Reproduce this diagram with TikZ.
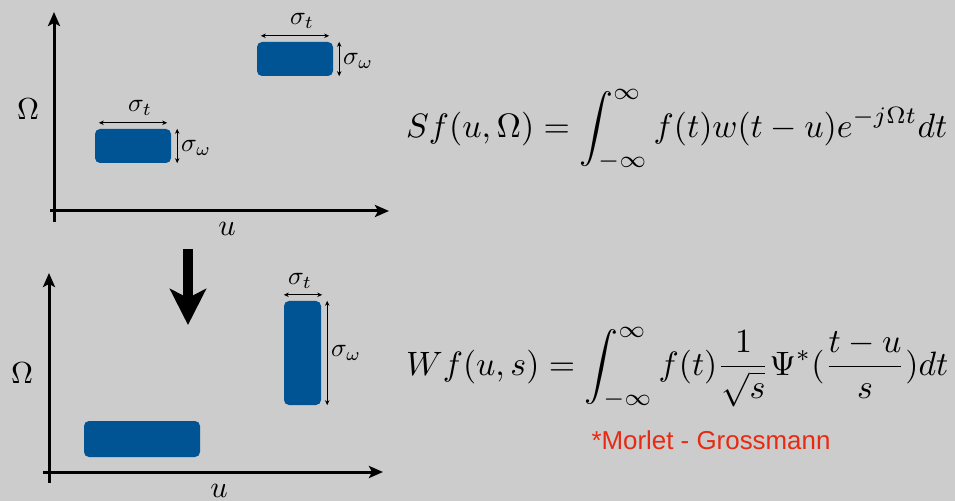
\documentclass[tikz,border=0pt]{standalone}
\usepackage{graphicx}
\usepackage{fontspec}
\newfontfamily\sansf{Liberation Sans}
\usetikzlibrary{arrows.meta}
\definecolor{bgc}{RGB}{204,204,204}
\definecolor{boxc}{RGB}{0,84,148}
\definecolor{redt}{RGB}{232,42,18}
\newcommand{\labm}[1]{\scalebox{3.05}{$#1$}}
\newcommand{\sigm}[1]{\scalebox{2.6}{$#1$}}
\begin{document}
\begin{tikzpicture}[x=1bp,y=-1bp,
  box/.style={fill=boxc, rounded corners=5bp, inner sep=0, draw=none},
  axis/.style={line width=3bp, -{Stealth[length=14bp,width=12bp,inset=3bp]}},
  dim/.style={line width=0.8bp, {Stealth[length=5bp,width=4.5bp]}-{Stealth[length=5bp,width=4.5bp]}},
  lab/.style={inner sep=0},
  sig/.style={inner sep=0},
  bigarrow/.style={line width=10bp, -{Stealth[length=36bp,width=36bp,inset=9bp]}}]
\fill[bgc] (0,0) rectangle (955,501);
\useasboundingbox (0,0) rectangle (955,501);

% ---------- top panel ----------
\coordinate (ty0) at (54,222);
\coordinate (ty1) at (54,12);
\coordinate (tx0) at (50,211);
\coordinate (tx1) at (389,211);
\draw[axis] (ty0) -- (ty1);
\draw[axis] (tx0) -- (tx1);
\node[lab] (tOm) at (28,109) {\labm{\Omega}};
\node[lab] (tu) at (227,229) {\labm{u}};

\node[box, minimum width=76bp, minimum height=34bp] (r1) at (133,146) {};
\node[box, minimum width=76bp, minimum height=34bp] (r2) at (295,59) {};

\draw[dim] ([shift={(4,-6)}]r1.north west) -- ([shift={(-4,-6)}]r1.north east);
\node[sig] (s1t) at (140,108) {\sigm{\sigma_t}};
\draw[dim] ([shift={(6,0)}]r1.north east) -- ([shift={(6,0)}]r1.south east);
\node[sig, anchor=west] (s1w) at (181,148) {\sigm{\sigma_\omega}};

\draw[dim] ([shift={(4,-6)}]r2.north west) -- ([shift={(-4,-6)}]r2.north east);
\node[sig] (s2t) at (302,21) {\sigm{\sigma_t}};
\draw[dim] ([shift={(6,0)}]r2.north east) -- ([shift={(6,0)}]r2.south east);
\node[sig, anchor=west] (s2w) at (343,61) {\sigm{\sigma_\omega}};

% ---------- big arrow ----------
\coordinate (a0) at (188,249);
\coordinate (a1) at (188,325);
\draw[bigarrow] (a0) -- (a1);

% ---------- bottom panel ----------
\coordinate (by0) at (49,483);
\coordinate (by1) at (49,273);
\coordinate (bx0) at (43,472);
\coordinate (bx1) at (383,472);
\draw[axis] (by0) -- (by1);
\draw[axis] (bx0) -- (bx1);
\node[lab] (bOm) at (22,373) {\labm{\Omega}};
\node[lab] (bu) at (219,491) {\labm{u}};

\node[box, minimum width=116bp, minimum height=36bp] (r3) at (142,439) {};
\node[box, minimum width=37bp, minimum height=104bp] (r4) at (302.5,353) {};

\draw[dim] ([shift={(0,-6)}]r4.north west) -- ([shift={(1,-6)}]r4.north east);
\node[sig] (s4t) at (300,281) {\sigm{\sigma_t}};
\draw[dim] ([shift={(6,0)}]r4.north east) -- ([shift={(6,0)}]r4.south east);
\node[sig, anchor=west] (s4w) at (331,353) {\sigm{\sigma_\omega}};

% ---------- formulas ----------
\node[inner sep=0, anchor=west] (f1) at (406,130)
  {\resizebox{541bp}{!}{$\displaystyle Sf(u,\Omega)=\int_{-\infty}^{\infty} f(t)w(t-u)e^{-j\Omega t}dt$}};
\node[inner sep=0, anchor=west] (f2) at (406,368)
  {\resizebox{542bp}{!}{$\displaystyle Wf(u,s)=\int_{-\infty}^{\infty} f(t)\frac{1}{\sqrt{s}}\Psi^*(\frac{t-u}{s})dt$}};
\node[inner sep=0, text=redt, font=\sansf\fontsize{26}{30}\selectfont] (ml) at (711,440) {*Morlet - Grossmann};
\end{tikzpicture}
\end{document}
